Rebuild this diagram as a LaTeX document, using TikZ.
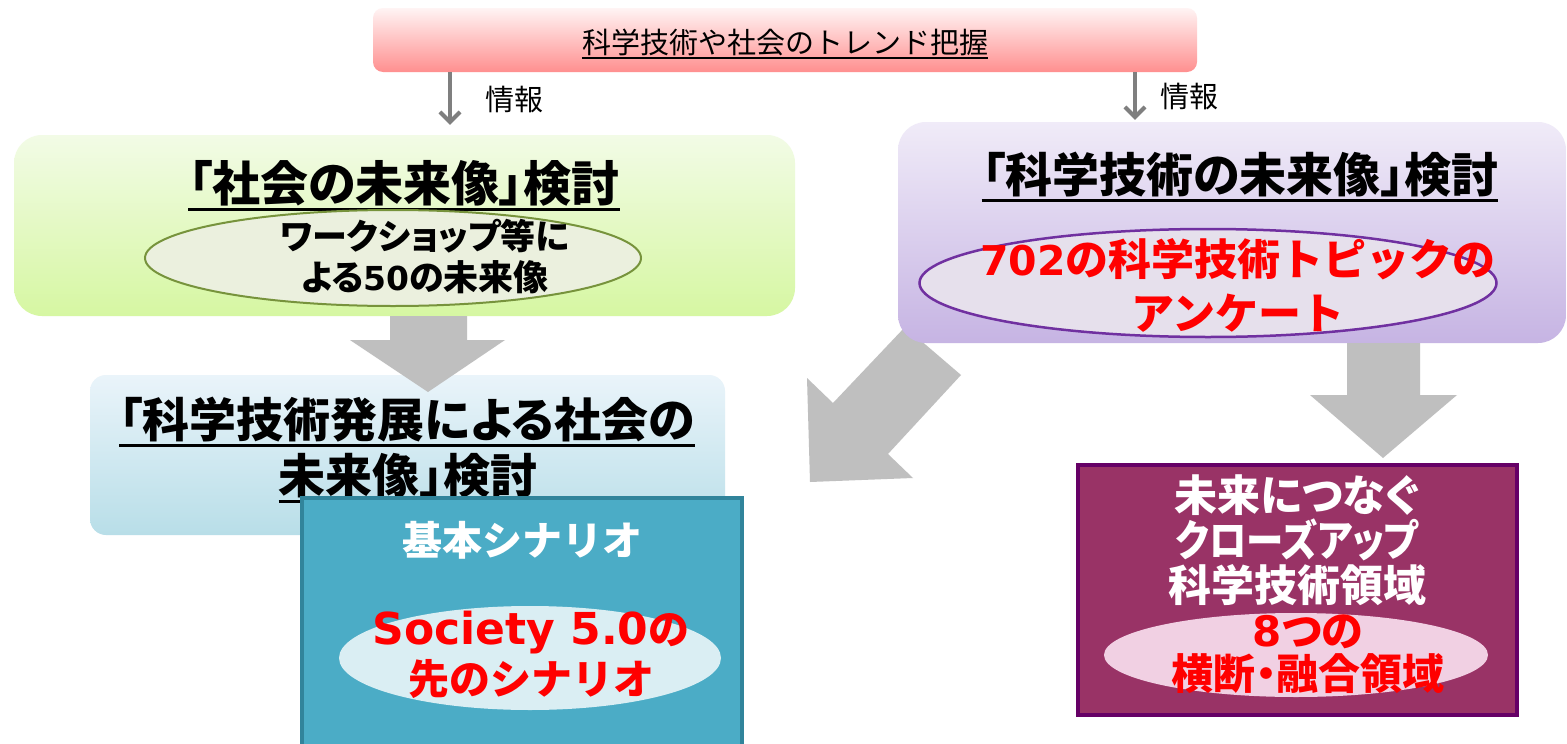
\documentclass[tikz,border=0pt]{standalone}
\usepackage{fontspec}
\setmainfont{Noto Sans CJK JP}
\newfontfamily\jpp{Noto Sans CJK JP}[RawFeature=+palt]
\newfontfamily\lat{DejaVu Sans}
\usetikzlibrary{shapes.geometric,arrows.meta}
\definecolor{topT}{HTML}{FFF4F4}
\definecolor{topB}{HTML}{FF8F8F}
\definecolor{grnT}{HTML}{F2FBE6}
\definecolor{grnB}{HTML}{D6F7A2}
\definecolor{grnEf}{HTML}{EBF0DE}
\definecolor{grnEd}{HTML}{77933C}
\definecolor{purT}{HTML}{F0EBF8}
\definecolor{purB}{HTML}{C6B4E3}
\definecolor{purEf}{HTML}{E6E0EC}
\definecolor{purEd}{HTML}{7030A0}
\definecolor{bluT}{HTML}{EAF4FA}
\definecolor{bluB}{HTML}{B8DEE8}
\definecolor{teal}{HTML}{4BACC6}
\definecolor{tealD}{HTML}{31849B}
\definecolor{tealE}{HTML}{DAEEF3}
\definecolor{maroon}{HTML}{993366}
\definecolor{maroonD}{HTML}{660066}
\definecolor{pinkE}{HTML}{F1D0E3}
\definecolor{blk}{HTML}{BFBFBF}
\definecolor{sarr}{HTML}{7F7F7F}
\definecolor{myred}{HTML}{FF0000}
\tikzset{
  box/.style={rounded corners=#1, inner sep=0pt},
  ttl/.style={inner sep=0pt, font=\jpp\bfseries\fontsize{47}{56}\selectfont, align=center},
  uline/.style={line width=3pt, black},
  ell/.style={ellipse, inner sep=0pt, line width=2pt},
  txt/.style={inner sep=0pt, align=center},
  blockarrow/.style={fill=blk, draw=none},
  info/.style={draw=sarr, line width=4pt, -{Straight Barb[length=10pt,width=20pt,line width=4pt]}},
  infolbl/.style={inner sep=0pt, font=\fontsize{29}{30}\selectfont},
}
\begin{document}
\begin{tikzpicture}[x=1pt,y=-1pt]
\useasboundingbox (0,0) rectangle (1567,744);
\fill[white] (0,0) rectangle (1567,744);

% top bar
\node[box=10pt, minimum width=824pt, minimum height=64pt, top color=topT, bottom color=topB] (top) at (785,40) {};
\node[inner sep=0pt, font=\fontsize{29}{32}\selectfont] (topT) at (785,42) {科学技術や社会のトレンド把握};
\draw[line width=2pt] ([yshift=-2pt]topT.south west) -- ([yshift=-2pt]topT.south east);

% green box
\node[box=28pt, minimum width=781pt, minimum height=181pt, top color=grnT, bottom color=grnB] (green) at (404.5,225.5) {};
\node[ttl, font=\jpp\bfseries\fontsize{48}{56}\selectfont] (gT) at (404,183) {「社会の未来像」検討};
\draw[uline] ([yshift=-3pt]gT.south west) -- ([yshift=-3pt]gT.south east);
\node[ell, draw=grnEd, fill=grnEf, minimum width=496pt, minimum height=96pt] (gE) at (393,258) {};
\node[txt, font=\jpp\bfseries\fontsize{35}{41}\selectfont] (gEt) at (425,257) {ワークショップ等に\\よる{\lat\fontsize{33}{41}\selectfont 50}の未来像};

% blue box
\node[box=16pt, minimum width=635pt, minimum height=160pt, top color=bluT, bottom color=bluB] (blue) at (407.5,455) {};
\node[ttl] (bT1) at (407,420) {「科学技術発展による社会の};
\node[ttl] (bT2) at (408,476) {未来像」検討};
\draw[uline] ([yshift=-3pt]bT1.south west) -- ([yshift=-3pt]bT1.south east);
\draw[uline] ([yshift=-3pt]bT2.south west) -- ([yshift=-3pt]bT2.south east);

% teal box
\node[inner sep=0pt, draw=tealD, line width=4pt, fill=teal, minimum width=440pt, minimum height=262pt] (tealbox) at (522,629) {};
\node[txt, text=white, font=\bfseries\fontsize{40}{44}\selectfont] (tT) at (522,540) {基本シナリオ};
\node[ell, draw=none, fill=tealE, minimum width=382pt, minimum height=104pt] (tE) at (530,658) {};
\node[txt, text=myred, font=\bfseries\fontsize{41}{50}\selectfont] (tEt) at (531,655) {{\lat\fontsize{44}{50}\selectfont Society 5.0}の\\先のシナリオ};

% left block arrow
\fill[blockarrow] (390,316) -- (467,316) -- (467,340) -- (505,340) -- (428,392) -- (350,340) -- (390,340) -- cycle;
% diagonal block arrow
\fill[blockarrow] (905,327) -- (961,375) -- (888,454) -- (913,478) -- (810,482) -- (807,378) -- (833,403) -- cycle;

% purple box
\node[box=28pt, minimum width=668pt, minimum height=221pt, top color=purT, bottom color=purB] (purple) at (1232,232.5) {};
\node[ttl] (pT) at (1240,175) {「科学技術の未来像」検討};
\draw[uline] ([yshift=-3pt]pT.south west) -- ([yshift=-3pt]pT.south east);
\node[ell, draw=purEd, line width=2.5pt, fill=purEf, minimum width=577pt, minimum height=108pt] (pE) at (1208,283) {};
\node[txt, text=myred, font=\bfseries\fontsize{43}{54}\selectfont] (pEt) at (1238,285) {{\lat\fontsize{41}{54}\selectfont 702}の科学技術トピックの\\アンケート};

% right block arrow
\fill[blockarrow] (1347,343) -- (1420,343) -- (1420,395) -- (1457,395) -- (1383,458) -- (1310,395) -- (1347,395) -- cycle;

% maroon box
\node[inner sep=0pt, draw=maroonD, line width=4pt, fill=maroon, minimum width=439pt, minimum height=250pt] (maroonbox) at (1297.5,590) {};
\node[txt, text=white, font=\jpp\bfseries\fontsize{43}{45}\selectfont] (mT) at (1297,540) {未来につなぐ\\\scalebox{0.87}[1]{クローズアップ}\\科学技術領域};
\node[ell, draw=none, fill=pinkE, minimum width=384pt, minimum height=84pt] (mE) at (1296,655) {};
\node[txt, text=myred, font=\jpp\bfseries\fontsize{42}{43}\selectfont] (mEt) at (1308,654) {{\lat 8}つの\\横断・融合領域};

% info arrows
\coordinate (i1) at (450,0);
\coordinate (i2) at (1135,0);
\draw[info, shorten >=10pt] (top.south -| i1) -- (green.north -| i1);
\node[infolbl, anchor=west] (l1) at (485,100) {情報};
\draw[info, shorten >=2pt] (top.south -| i2) -- (purple.north -| i2);
\node[infolbl, anchor=west] (l2) at (1160,97) {情報};
\end{tikzpicture}
\end{document}
